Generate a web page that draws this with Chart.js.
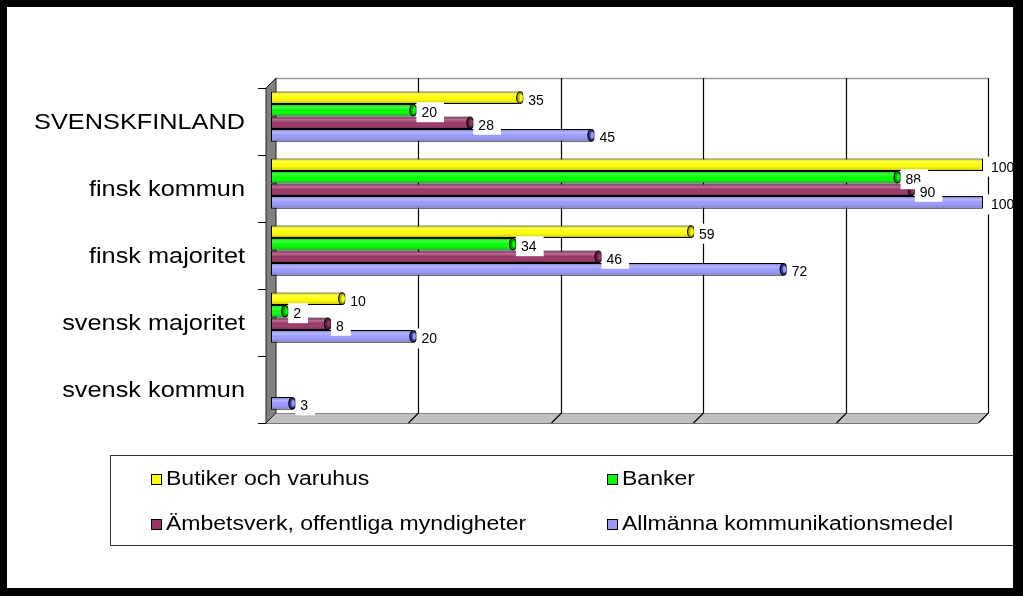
<!DOCTYPE html>
<html>
<head>
<meta charset="utf-8">
<script src="https://cdn.jsdelivr.net/npm/chart.js@4/dist/chart.umd.min.js"></script>
<style>
  html, body { margin: 0; padding: 0; background: #fff; }
  #wrap { position: relative; width: 1023px; height: 596px; overflow: hidden; background: #fff; }
  #chartBox { position: absolute; left: 0; top: 0; width: 1023px; height: 596px; }
  #legend { position: absolute; left: 110px; top: 455px; width: 920px; height: 91px;
            border: 1px solid #333; box-sizing: border-box; font-family: "Liberation Sans", Arial, sans-serif; }
  .item { position: absolute; height: 24px; line-height: 24px; white-space: nowrap; }
  .mk { position: absolute; left: 0; top: 8px; width: 9px; height: 9px; border: 1px solid #000; }
  .tx { position: absolute; left: 15px; top: 0; font-size: 20px; color: #000;
        display: inline-block; transform: scaleX(1.15); transform-origin: left center; }
  #frame { position: absolute; left: 0; top: 0; width: 1023px; height: 596px; box-sizing: border-box;
           border-style: solid; border-color: #000; border-width: 7px 10px 8px 7px; pointer-events: none; z-index: 10; }
</style>
</head>
<body>
<div id="wrap">
  <div id="chartBox"><canvas id="c"></canvas></div>
  <div id="legend"></div>
  <div id="frame"></div>
</div>
<script>
// ---- data ----
const categories = ["SVENSKFINLAND", "finsk kommun", "finsk majoritet", "svensk majoritet", "svensk kommun"];
const seriesNames = ["Butiker och varuhus", "Banker", "Ämbetsverk, offentliga myndigheter", "Allmänna kommunikationsmedel"];
const butiker = [35, 100, 59, 10, null];
const banker = [20, 88, 34, 2, null];
const ambetsverk = [28, 90, 46, 8, null];
const kommunikation = [45, 100, 72, 20, 3];
const seriesColors = ["#FFFF00", "#00FF00", "#993366", "#9999FF"];
const capColors = ["#B8B800", "#00A000", "#5a1d3c", "#3a3a90"];
const gridValues = [20, 40, 60, 80, 100];
const xMin = 0, xMax = 100;

const seriesValues = [butiker, banker, ambetsverk, kommunikation];

// ---- legend (HTML) ----
const legendPos = [[40, 10], [496, 10], [40, 55], [496, 55]];
const legendEl = document.getElementById('legend');
seriesNames.forEach((n, i) => {
  const d = document.createElement('div');
  d.className = 'item';
  d.style.left = legendPos[i][0] + 'px';
  d.style.top = legendPos[i][1] + 'px';
  d.innerHTML = '<span class="mk" style="background:' + seriesColors[i] + '"></span><span class="tx"></span>';
  d.querySelector('.tx').textContent = n;
  legendEl.appendChild(d);
});

const D = 5; // half depth of 3D effect
const LABEL_STRETCH = 1.15;

const box3d = {
  id: 'box3d',
  beforeDatasetsDraw(chart) {
    const ctx = chart.ctx, a = chart.chartArea, xs = chart.scales.x, ys = chart.scales.y;
    ctx.save();
    // back wall top line
    ctx.strokeStyle = '#9a9a9a'; ctx.lineWidth = 1.5;
    ctx.beginPath(); ctx.moveTo(a.left + D, a.top - D + 0.5); ctx.lineTo(a.right + D, a.top - D + 0.5); ctx.stroke();
    // floor
    ctx.fillStyle = '#c0c0c0';
    ctx.beginPath();
    ctx.moveTo(a.left + D, a.bottom - D); ctx.lineTo(a.right + D, a.bottom - D);
    ctx.lineTo(a.right - D, a.bottom + D); ctx.lineTo(a.left - D, a.bottom + D); ctx.closePath(); ctx.fill();
    ctx.strokeStyle = '#888'; ctx.lineWidth = 1;
    ctx.beginPath(); ctx.moveTo(a.left + D, a.bottom - D + 0.5); ctx.lineTo(a.right + D, a.bottom - D + 0.5); ctx.stroke();
    ctx.strokeStyle = '#777';
    ctx.beginPath(); ctx.moveTo(a.left - D - 8, a.bottom + D + 0.5); ctx.lineTo(a.right - D, a.bottom + D + 0.5); ctx.stroke();
    // gridlines on back wall + floor diagonal
    ctx.strokeStyle = '#000'; ctx.lineWidth = 1.2;
    gridValues.forEach(v => {
      const x = Math.round(xs.getPixelForValue(v)) + 0.5;
      ctx.beginPath();
      ctx.moveTo(x + D, a.top - D); ctx.lineTo(x + D, a.bottom - D); ctx.lineTo(x - D, a.bottom + D);
      ctx.stroke();
    });
    // left wall
    ctx.fillStyle = '#808080';
    ctx.beginPath();
    ctx.moveTo(a.left - D, a.top + D); ctx.lineTo(a.left + D, a.top - D);
    ctx.lineTo(a.left + D, a.bottom - D); ctx.lineTo(a.left - D, a.bottom + D); ctx.closePath(); ctx.fill();
    ctx.strokeStyle = '#222'; ctx.lineWidth = 1; ctx.stroke();
    // category tick marks on the front-left edge
    ctx.strokeStyle = '#000';
    const n = categories.length;
    const step = (a.bottom - a.top) / n;
    for (let i = 0; i <= n; i++) {
      const y = Math.round(a.top + i * step + D) + 0.5;
      ctx.beginPath(); ctx.moveTo(a.left - D - 8, y); ctx.lineTo(a.left - D, y); ctx.stroke();
    }
    // category labels (stretched horizontally like the original)
    ctx.font = '22px "Liberation Sans", Arial, sans-serif';
    ctx.fillStyle = '#000';
    ctx.textAlign = 'right';
    ctx.textBaseline = 'middle';
    ys.ticks.forEach((t, i) => {
      const y = ys.getPixelForTick(i) + D;
      const xr = a.left - 26;
      ctx.save();
      ctx.translate(xr, y);
      ctx.scale(LABEL_STRETCH, 1);
      ctx.fillText(categories[t.value], 0, 1);
      ctx.restore();
    });
    ctx.restore();
  }
};

const cylinder = {
  id: 'cylinder',
  afterDatasetsDraw(chart) {
    const ctx = chart.ctx, a = chart.chartArea;
    ctx.save();
    chart.data.datasets.forEach((ds, di) => {
      const meta = chart.getDatasetMeta(di);
      meta.data.forEach((el, i) => {
        if (ds.data[i] == null) return;
        const p = el.getProps(['x', 'y', 'base', 'height'], true);
        const top = p.y - p.height / 2, h = p.height;
        const left = Math.min(p.base, p.x), w = Math.abs(p.x - p.base);
        const g = ctx.createLinearGradient(0, top, 0, top + h);
        g.addColorStop(0, 'rgba(0,0,0,0.10)');
        g.addColorStop(0.25, 'rgba(255,255,255,0.30)');
        g.addColorStop(0.5, 'rgba(255,255,255,0.0)');
        g.addColorStop(1, 'rgba(0,0,0,0.30)');
        ctx.fillStyle = g;
        ctx.fillRect(left + 1, top + 1, w - 2, h - 2);
        if (p.x < a.right - 1) {
          ctx.beginPath();
          ctx.ellipse(p.x, p.y, 3.5, h / 2 - 0.5, 0, 0, Math.PI * 2);
          ctx.fillStyle = capColors[di]; ctx.fill();
          ctx.strokeStyle = '#000'; ctx.lineWidth = 1.2; ctx.stroke();
          ctx.beginPath();
          ctx.ellipse(p.x + 0.8, p.y, 1.6, h / 2 - 3, 0, 0, Math.PI * 2);
          ctx.fillStyle = seriesColors[di]; ctx.fill();
        }
      });
    });
    ctx.restore();
  }
};

const valueLabels = {
  id: 'valueLabels',
  afterDatasetsDraw(chart) {
    const ctx = chart.ctx;
    ctx.save();
    ctx.font = '14px "Liberation Sans", Arial, sans-serif';
    ctx.textBaseline = 'middle';
    ctx.textAlign = 'left';
    chart.data.datasets.forEach((ds, di) => {
      const meta = chart.getDatasetMeta(di);
      meta.data.forEach((el, i) => {
        const v = ds.data[i];
        if (v == null) return;
        const p = el.getProps(['x', 'y'], true);
        const txt = String(v);
        const tw = ctx.measureText(txt).width;
        const tx = p.x + 8, ty = p.y + 2;
        ctx.fillStyle = '#fff';
        ctx.fillRect(tx - 5, ty - 10, tw + 12, 20);
        ctx.fillStyle = '#000';
        ctx.fillText(txt, tx, ty + 1);
      });
    });
    ctx.restore();
  }
};

new Chart(document.getElementById('c'), {
  type: 'bar',
  data: {
    labels: categories,
    datasets: seriesNames.map((n, i) => ({
      label: n,
      data: seriesValues[i],
      backgroundColor: seriesColors[i],
      borderColor: '#000',
      borderWidth: 1,
      borderSkipped: false,
      categoryPercentage: 0.75,
      barPercentage: 1.0
    }))
  },
  options: {
    indexAxis: 'y',
    responsive: true,
    maintainAspectRatio: false,
    animation: false,
    layout: { padding: { left: 0, right: 40, top: 83, bottom: 178 } },
    plugins: { legend: { display: false }, tooltip: { enabled: false } },
    scales: {
      x: { display: false, min: xMin, max: xMax },
      y: {
        grid: { display: false, drawTicks: false },
        border: { display: false },
        ticks: { display: false },
        afterFit(scale) { scale.width = 271; }
      }
    }
  },
  plugins: [box3d, cylinder, valueLabels]
});
</script>
</body>
</html>
